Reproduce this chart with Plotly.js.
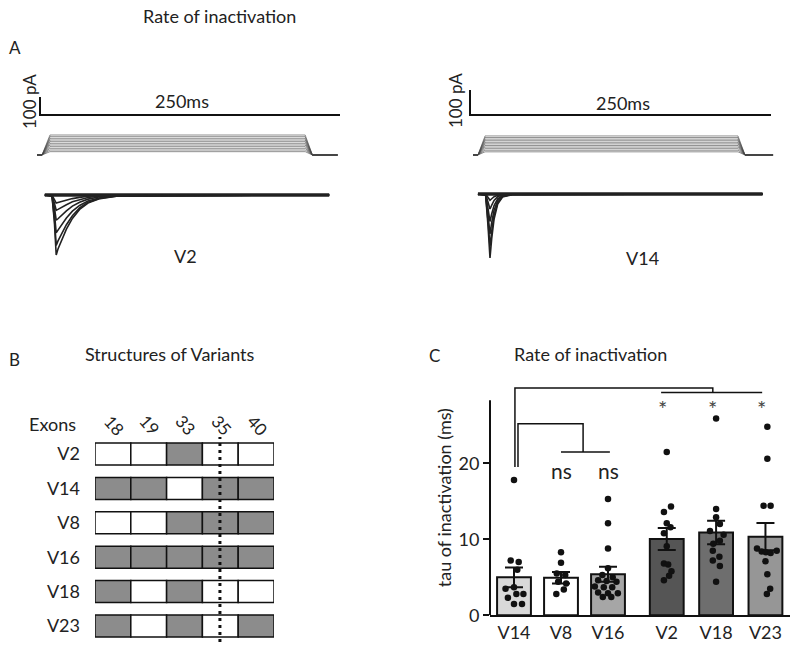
<!DOCTYPE html>
<html>
<head>
<meta charset="utf-8">
<script src="https://cdn.plot.ly/plotly-3.0.1.min.js"></script>
<style>html,body{margin:0;padding:0;background:#fff}</style>
</head>
<body>
<div id="fig" style="width:800px;height:653px"></div>
<script>
// ---- panel A: voltage protocol + current traces ----
const holdingMv = -100;
const stepLevels = [-80, -70, -60, -50, -40, -30, -20, -10, 0, 10, 20];
const v2StepTime = [-2.5, 1.7, 8.3, 221, 227, 248];
const v14StepTime = [2.5, 6.6, 12.5, 222.6, 228.4, 251.7];

const v2Time = [4, 10, 12, 13.5, 15, 18, 22, 27, 33, 40, 50, 65, 241];
const v2Currents = [
  [0, -5, -150, -333, -300, -250, -190, -130, -80, -45, -20, -5, 0],
  [0, -5, -130, -280, -255, -215, -165, -115, -72, -40, -18, -5, 0],
  [0, -4, -100, -210, -195, -165, -128, -90, -58, -33, -15, -4, 0],
  [0, -3, -70, -140, -132, -112, -88, -62, -40, -23, -10, -3, 0],
  [0, -2, -45, -85, -80, -68, -54, -38, -25, -14, -6, -2, 0],
  [0, -1, -25, -45, -42, -36, -28, -20, -13, -7, -3, -1, 0]
];
const v14Time = [6.6, 13, 15, 16.6, 18, 20, 23, 27, 35, 243];
const v14Currents = [
  [0, -5, -130, -256, -180, -100, -40, -12, -3, 0],
  [0, -4, -110, -210, -150, -85, -35, -10, -2, 0],
  [0, -3, -85, -160, -115, -65, -27, -8, -2, 0],
  [0, -2, -60, -110, -80, -46, -19, -6, -1, 0],
  [0, -1, -33, -60, -45, -26, -11, -3, -1, 0],
  [0, 0, -14, -25, -19, -11, -5, -2, 0, 0]
];
const scaleMs = 250;
const scalePa = 100;

// ---- panel B: exon structure ----
const exons = ["18", "19", "33", "35", "40"];
const variants = ["V2", "V14", "V8", "V16", "V18", "V23"];
const exonsV2 = [0, 0, 1, 0, 0];
const exonsV14 = [1, 1, 0, 1, 1];
const exonsV8 = [0, 0, 1, 1, 1];
const exonsV16 = [1, 1, 1, 1, 1];
const exonsV18 = [1, 0, 1, 0, 0];
const exonsV23 = [1, 0, 1, 0, 1];
const exonRows = [exonsV2, exonsV14, exonsV8, exonsV16, exonsV18, exonsV23];

// ---- panel C: tau of inactivation ----
const groups = ["V14", "V8", "V16", "V2", "V18", "V23"];
const meanTau = [5.0, 4.95, 5.4, 10.05, 10.9, 10.35];
const semTau = [1.3, 0.75, 1.0, 1.45, 1.55, 1.8];
const tauV14 = [17.8, 7.2, 7.0, 6.0, 3.5, 3.7, 2.8, 2.3, 2.8, 1.5, 1.5];
const jitV14 = [0.0, -0.07, 0.1, 0.07, -0.18, 0.0, 0.05, -0.13, 0.2, 0.0, 0.17];
const tauV8 = [8.3, 6.9, 5.5, 5.3, 4.4, 4.2, 3.4, 2.8];
const jitV8 = [0.0, 0.0, -0.09, 0.09, -0.06, 0.11, 0.06, -0.1];
const tauV16 = [15.3, 12.1, 8.8, 6.2, 5.3, 5.0, 4.6, 4.5, 4.4, 3.8, 3.7, 3.7, 3.0, 2.9, 2.9, 2.4, 2.4];
const jitV16 = [0, 0, 0, 0.0, -0.12, 0.1, -0.21, -0.03, 0.18, -0.28, -0.09, 0.09, -0.21, 0.0, 0.21, -0.11, 0.07];
const tauV2 = [21.5, 14.3, 13.6, 12.1, 11.6, 10.8, 9.1, 6.8, 6.7, 5.8, 5.2, 4.6];
const jitV2 = [0.0, 0.09, -0.06, 0.0, 0.08, -0.06, 0.0, -0.06, 0.03, 0.1, 0.05, -0.06];
const tauV18 = [25.9, 14.0, 12.9, 12.0, 11.1, 10.6, 9.8, 9.4, 8.5, 7.7, 7.2, 6.5, 4.4];
const jitV18 = [0.0, 0.0, 0.0, 0.08, -0.13, 0.16, 0.08, -0.06, -0.07, 0.07, -0.07, 0.08, 0.0];
const tauV23 = [24.8, 20.6, 14.4, 14.4, 8.8, 8.4, 8.3, 8.2, 8.5, 7.1, 5.4, 3.5, 2.8];
const jitV23 = [0.04, 0.04, -0.04, 0.11, -0.18, -0.08, 0.01, 0.11, 0.24, 0.0, 0.04, 0.1, 0.03];
const tauPoints = [tauV14, tauV8, tauV16, tauV2, tauV18, tauV23];
const tauJitter = [jitV14, jitV8, jitV16, jitV2, jitV18, jitV23];

// ---- helpers ----
const W = 800, H = 653;
const px = v => v / W;
const py = v => 1 - v / H;
const FONT = "Lato, 'Open Sans', sans-serif";
const barColors = ["#d9d9d9", "#ffffff", "#a6a6a6", "#555555", "#6e6e6e", "#969696"];
const groupPos = groups.map((_, i) => i < 3 ? i : 3.25 + (i - 3) * 1.05);

const traces = [];

// voltage steps + currents for one recording
const addRecording = (xa, yCur, yVolt, stepTime, curTime, currents) => {
  stepLevels.forEach(level => {
    traces.push({
      x: stepTime,
      y: [holdingMv, holdingMv, level, level, holdingMv, holdingMv],
      xaxis: xa, yaxis: yVolt, mode: "lines",
      line: { color: "#444", width: 0.6 }, hoverinfo: "skip"
    });
  });
  traces.push({
    x: [curTime[0], curTime[curTime.length - 1]], y: [0, 0],
    xaxis: xa, yaxis: yCur, mode: "lines",
    line: { color: "#222", width: 3.5 }, hoverinfo: "skip"
  });
  currents.forEach(c => {
    traces.push({
      x: curTime, y: c, xaxis: xa, yaxis: yCur, mode: "lines",
      line: { color: "#222", width: 1.6 }, hoverinfo: "skip"
    });
  });
};

addRecording("x", "y", "y2", v2StepTime, v2Time, v2Currents);
addRecording("x2", "y3", "y4", v14StepTime, v14Time, v14Currents);

// scale bars
const scaleBar = (xa, ya, yBase) => {
  traces.push({
    x: [0, 0, scaleMs], y: [yBase + scalePa, yBase, yBase],
    xaxis: xa, yaxis: ya, mode: "lines",
    line: { color: "#111", width: 2 }, hoverinfo: "skip"
  });
};
scaleBar("x", "y", (195 - 115) / 0.18);
scaleBar("x2", "y3", (194 - 115) / 0.25);

// panel B cells
exons.forEach((ex, j) => {
  traces.push({
    type: "bar", orientation: "h",
    y: variants, x: variants.map(() => 1), base: variants.map(() => j),
    width: 0.64, xaxis: "x3", yaxis: "y5",
    marker: {
      color: exonRows.map(r => r[j] ? "#8c8c8c" : "#ffffff"),
      line: { color: "#111", width: 1.5 }
    },
    hoverinfo: "skip"
  });
});

// panel C bars
traces.push({
  type: "bar", x: groupPos, y: meanTau, width: 0.72,
  xaxis: "x4", yaxis: "y6",
  marker: { color: barColors, line: { color: "#111", width: 2 } },
  error_y: { type: "data", array: semTau, color: "#111", thickness: 2, width: 9 }
});
tauPoints.forEach((vals, i) => {
  traces.push({
    type: "scatter", mode: "markers",
    x: vals.map((_, k) => groupPos[i] + tauJitter[i][k]), y: vals,
    xaxis: "x4", yaxis: "y6", cliponaxis: false,
    marker: { color: "#111", size: 6.5 }
  });
});

const hidden = { visible: false, fixedrange: true };

const ann = (text, x, y, size, extra) => Object.assign({
  text, x: px(x), y: py(y), xref: "paper", yref: "paper",
  xanchor: "center", yanchor: "middle",
  showarrow: false, font: { family: FONT, size, color: "#222" }
}, extra || {});

const annotations = [
  ann("Rate of inactivation", 219, 16, 18),
  ann("A", 15, 47, 17),
  ann("250ms", 182, 101, 18),
  ann("250ms", 623, 103, 18),
  ann("100 pA", 29, 101, 17, { textangle: -90 }),
  ann("100 pA", 455, 101, 17, { textangle: -90 }),
  ann("V2", 185, 256, 18),
  ann("V14", 642, 258, 18),
  ann("B", 14, 359, 17),
  ann("Structures of Variants", 170, 354, 18),
  ann("Exons", 52, 424, 18),
  ann("C", 435, 355, 17),
  ann("Rate of inactivation", 590, 354, 18)
];
// exon column headers
exons.forEach((ex, j) => {
  annotations.push({
    text: ex, x: j + 0.55, y: py(425), xref: "x3", yref: "paper",
    xanchor: "center", yanchor: "middle", textangle: 48,
    showarrow: false, font: { family: FONT, size: 17, color: "#222" }
  });
});
// significance labels in panel C
[3, 4, 5].forEach(i => {
  annotations.push({
    text: "*", x: groupPos[i] - 0.08, y: 27.2, xref: "x4", yref: "y6",
    xanchor: "center", yanchor: "middle",
    showarrow: false, font: { family: FONT, size: 22, color: "#444" }
  });
});
[1, 2].forEach(i => {
  annotations.push({
    text: "ns", x: groupPos[i] + 0.0, y: 19.1, xref: "x4", yref: "y6",
    xanchor: "center", yanchor: "middle",
    showarrow: false, font: { family: FONT, size: 21, color: "#222" }
  });
});

const bracketLine = { color: "#111", width: 1.5 };
const shapes = [
  // y axis line of panel C, ends below the brackets
  { type: "line", xref: "x4 domain", yref: "y6", x0: 0, x1: 0, y0: 0, y1: 28.3,
    line: { color: "#111", width: 2 } },
  // outer bracket V14 vs V2/V18/V23
  { type: "path", xref: "x4", yref: "y6",
    path: "M 0.02,19.5 L 0.02,29.9 L 4.23,29.9 L 4.23,29.3", line: bracketLine },
  { type: "line", xref: "x4", yref: "y6", x0: 3.13, x1: 5.28, y0: 29.3, y1: 29.3, line: bracketLine },
  // inner bracket V14 vs V8/V16
  { type: "path", xref: "x4", yref: "y6",
    path: "M 0.085,19.5 L 0.085,25.2 L 1.47,25.2 L 1.47,21.5", line: bracketLine },
  { type: "line", xref: "x4", yref: "y6", x0: 1.0, x1: 2.04, y0: 21.5, y1: 21.5, line: bracketLine },
  // dotted marker through exon 35
  { type: "line", xref: "x3", yref: "paper", x0: 3.49, x1: 3.49, y0: py(642), y1: py(437),
    line: { color: "#111", width: 3, dash: "3px,4px" } }
];

const layout = {
  width: W, height: H,
  margin: { l: 0, r: 0, t: 0, b: 0 },
  paper_bgcolor: "#fff", plot_bgcolor: "rgba(0,0,0,0)",
  showlegend: false, barmode: "overlay",
  font: { family: FONT, color: "#222" },
  xaxis: Object.assign({ domain: [px(30), px(350)], range: [(30 - 40) / 1.2, (350 - 40) / 1.2], anchor: "y" }, hidden),
  yaxis: Object.assign({ domain: [py(265), py(85)], range: [-(265 - 195) / 0.18, (195 - 85) / 0.18], anchor: "x" }, hidden),
  yaxis2: Object.assign({ overlaying: "y", anchor: "x", range: [holdingMv - 110 * 6, holdingMv + 70 * 6] }, hidden),
  xaxis2: Object.assign({ domain: [px(460), px(780)], range: [(460 - 470) / 1.204, (780 - 470) / 1.204], anchor: "y3" }, hidden),
  yaxis3: Object.assign({ domain: [py(265), py(85)], range: [-(265 - 194) / 0.25, (194 - 85) / 0.25], anchor: "x2" }, hidden),
  yaxis4: Object.assign({ overlaying: "y3", anchor: "x2", range: [holdingMv - 110 * 6.3, holdingMv + 70 * 6.3] }, hidden),
  xaxis3: {
    domain: [px(95), px(274)], range: [0, 5], anchor: "y5",
    showticklabels: false, showgrid: false, zeroline: false, showline: false, ticks: "", fixedrange: true
  },
  yaxis5: {
    domain: [py(643.2), py(436.8)], type: "category", categoryarray: variants,
    range: [5.5, -0.5], anchor: "x3",
    tickfont: { family: FONT, size: 18, color: "#222" }, ticklabelstandoff: 14,
    showgrid: false, zeroline: false, showline: false, ticks: "", fixedrange: true
  },
  xaxis4: {
    domain: [px(490), px(790)], range: [(490 - 514) / 47, (790 - 514) / 47], anchor: "y6",
    tickvals: groupPos, ticktext: groups, ticks: "",
    tickfont: { family: FONT, size: 18, color: "#222" },
    showline: true, linecolor: "#111", linewidth: 2,
    showgrid: false, zeroline: false, fixedrange: true
  },
  yaxis6: {
    domain: [py(615.3), py(380)], range: [0, (615.3 - 380) / 7.6], anchor: "x4",
    tickvals: [0, 10, 20], ticks: "outside", ticklen: 6, tickwidth: 2, tickcolor: "#111",
    tickfont: { family: FONT, size: 18, color: "#222" },
    title: { text: "tau of inactivation (ms)", font: { family: FONT, size: 18, color: "#222" }, standoff: 2 },
    showline: false, showgrid: false, zeroline: false, fixedrange: true
  },
  annotations, shapes
};

Plotly.newPlot("fig", traces, layout, { displayModeBar: false, staticPlot: true });
</script>
</body>
</html>
